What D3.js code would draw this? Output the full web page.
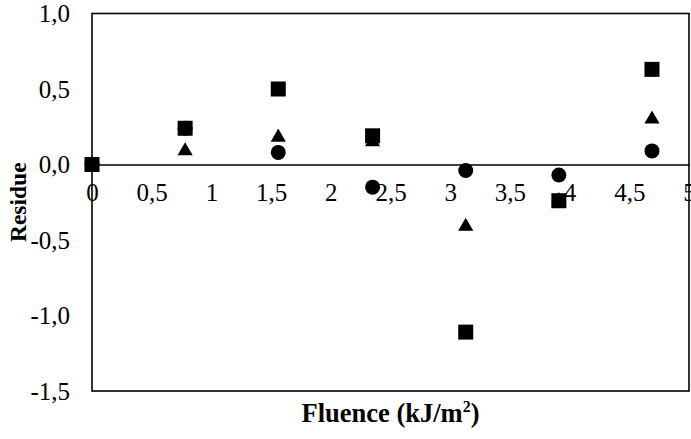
<!DOCTYPE html>
<html><head><meta charset="utf-8">
<script src="https://cdn.jsdelivr.net/npm/d3@7"></script>
<style>
html,body{margin:0;padding:0;background:#fff;overflow:hidden}
svg text{font-family:"Liberation Serif","Times New Roman",Times,serif !important;fill:#000}
</style></head>
<body><svg id="c" width="691" height="439"></svg>
<script>
const fluence = [0, 0.78, 1.56, 2.35, 3.13, 3.91, 4.69];
const squareVals = [0, 0.24, 0.50, 0.19, -1.11, -0.24, 0.63];
const triangleVals = [0, 0.09, 0.18, 0.15, -0.41, -0.24, 0.30];
const circleVals = [0, 0.24, 0.08, -0.15, -0.04, -0.07, 0.09];
const xTicks = [0, 0.5, 1, 1.5, 2, 2.5, 3, 3.5, 4, 4.5, 5];
const yTicks = [1.0, 0.5, 0.0, -0.5, -1.0, -1.5];

const svg = d3.select("#c");
const L = 92, R = 689, T = 13.5, B = 391;
const x = d3.scaleLinear().domain([0, 5]).range([L, R]);
const y = d3.scaleLinear().domain([-1.5, 1.0]).range([B, T]);
const fmt1 = v => d3.format(".1f")(v).replace(".", ",").replace("−", "-");
const fmtX = v => String(v).replace(".", ",");

// frame
svg.append("rect").attr("x", L).attr("y", T).attr("width", R - L).attr("height", B - T)
  .attr("fill", "none").attr("stroke", "#000").attr("stroke-width", 1.6);

// y axis labels
const yAxis = d3.axisLeft(y).tickValues(yTicks).tickFormat(fmt1).tickSize(0).tickPadding(22);
const gy = svg.append("g").attr("transform", `translate(${L},0)`).call(yAxis);
gy.select(".domain").remove();
gy.selectAll("text").attr("font-size", 25).attr("dy", "0.33em");

// x axis along zero line
const xAxis = d3.axisBottom(x).tickValues(xTicks).tickFormat(fmtX).tickSize(0).tickPadding(19);
const gx = svg.append("g").attr("transform", `translate(0,${y(0)})`).call(xAxis);
gx.select(".domain").attr("stroke", "#000").attr("stroke-width", 1.6);
gx.selectAll("text").attr("font-size", 25);

// markers
const s = 15;
svg.append("g").selectAll("circle").data(fluence).join("circle")
  .attr("cx", (d) => x(d)).attr("cy", (d, i) => y(circleVals[i])).attr("r", 7.5).attr("fill", "#000");
const tri = d3.symbol().type(d3.symbolTriangle).size(100);
svg.append("g").selectAll("path").data(fluence).join("path")
  .attr("d", tri)
  .attr("transform", (d, i) => `translate(${x(d)},${y(triangleVals[i])})`).attr("fill", "#000");
svg.append("g").selectAll("rect").data(fluence).join("rect")
  .attr("x", d => x(d) - s / 2).attr("y", (d, i) => y(squareVals[i]) - s / 2)
  .attr("width", s).attr("height", s).attr("fill", "#000");

// titles
svg.append("text").attr("x", (L + R) / 2).attr("y", 422).attr("text-anchor", "middle")
  .attr("font-weight", "bold").attr("font-size", 26.5)
  .html('Fluence (kJ/m<tspan dy="-10" font-size="16">2</tspan><tspan dy="10">)</tspan>');
svg.append("text").attr("transform", `translate(26,${(T + B) / 2}) rotate(-90)`)
  .attr("text-anchor", "middle").attr("font-weight", "bold").attr("font-size", 23.5).text("Residue");
</script></body></html>
